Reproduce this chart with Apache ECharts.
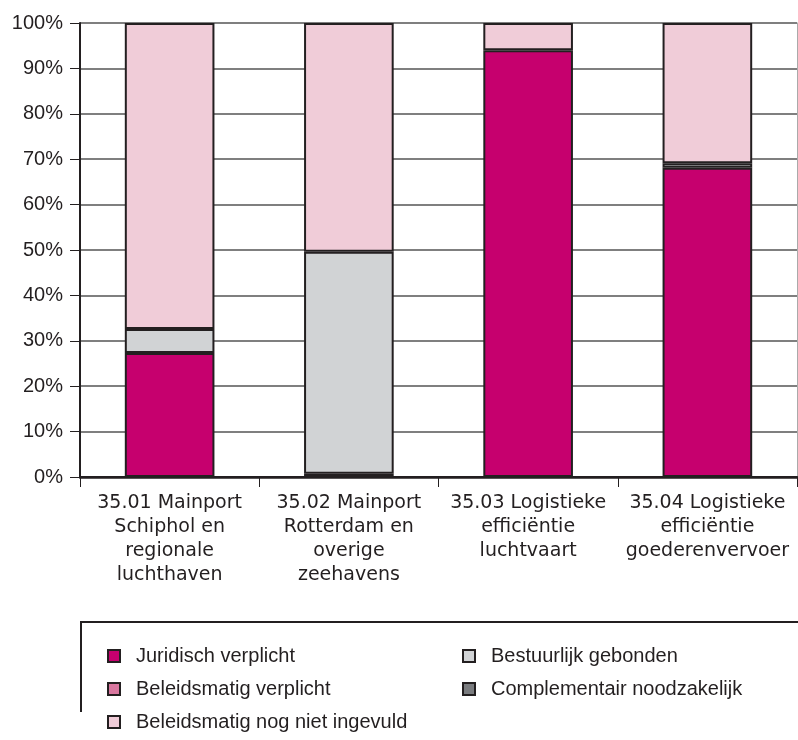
<!DOCTYPE html>
<html>
<head>
<meta charset="utf-8">
<script src="https://cdn.jsdelivr.net/npm/echarts@6/dist/echarts.min.js"></script>
<style>
  html, body { margin: 0; padding: 0; background: #fff; }
  #chart { width: 798px; height: 740px; }
</style>
</head>
<body>
<div id="chart"></div>
<script>
// categorieen (x-as)
const categories = [
  '35.01 Mainport\nSchiphol en\nregionale\nluchthaven',
  '35.02 Mainport\nRotterdam en\noverige\nzeehavens',
  '35.03 Logistieke\nefficiëntie\nluchtvaart',
  '35.04 Logistieke\nefficiëntie\ngoederenvervoer'
];
// waarden in procenten, van onder naar boven gestapeld
const juridisch = [27.3, 0.7, 94.0, 68.1];
const beleidsVerplicht = [0, 0, 0, 0];
const bestuurlijk = [5.3, 48.9, 0, 1.0];
const complementair = [0, 0, 0, 0];
const nogNietIngevuld = [67.4, 50.4, 6.0, 30.9];
const yTicks = [0, 10, 20, 30, 40, 50, 60, 70, 80, 90, 100];

const dark = '#231f20';
const font = 'Liberation Sans';

const chart = echarts.init(document.getElementById('chart'));

// lege segmenten niet tekenen (anders extra randlijnen)
const mkSeries = (name, data, color) => ({
  name: name,
  type: 'bar',
  stack: 'totaal',
  barWidth: '50%',
  data: data.map(v => v === 0 ? '-' : v),
  itemStyle: { color: color, borderColor: dark, borderWidth: 2 },
  emphasis: { disabled: true }
});

const legendText = { color: dark, fontFamily: font, fontSize: 20, lineHeight: 20, padding: [0, 0, 0, 11] };

chart.setOption({
  animation: false,
  grid: { left: 80, right: 1, top: 23, bottom: 263 },
  xAxis: [
    {
      type: 'category',
      data: categories,
      axisLine: { lineStyle: { color: dark, width: 2 } },
      axisTick: { show: true, length: 10, lineStyle: { color: dark, width: 1 } },
      axisLabel: {
        interval: 0, margin: 14, color: dark,
        fontFamily: 'DejaVu Sans', fontSize: 19, lineHeight: 24
      }
    },
    {
      type: 'category',
      position: 'top',
      data: categories,
      axisLine: { lineStyle: { color: dark, width: 2.5 } },
      axisTick: { show: false },
      axisLabel: { show: false }
    }
  ],
  yAxis: [
    {
      type: 'value',
      min: 0, max: 100, interval: 10,
      axisLine: { show: true, lineStyle: { color: dark, width: 2 } },
      axisTick: { show: true, length: 10, lineStyle: { color: dark, width: 1 } },
      axisLabel: {
        margin: 17, color: dark, fontFamily: font, fontSize: 20,
        formatter: v => yTicks.includes(v) ? v + '%' : ''
      },
      splitLine: { lineStyle: { color: '#555', width: 1.5 } }
    },
    {
      type: 'value',
      position: 'right',
      min: 0, max: 100, interval: 10,
      axisLine: { show: true, lineStyle: { color: '#aaa', width: 1 } },
      axisTick: { show: false },
      axisLabel: { show: false },
      splitLine: { show: false }
    }
  ],
  legend: [
    {
      orient: 'vertical',
      left: 102, top: 641,
      itemWidth: 12, itemHeight: 12, itemGap: 13,
      icon: 'rect',
      textStyle: legendText,
      data: ['Juridisch verplicht', 'Beleidsmatig verplicht', 'Beleidsmatig nog niet ingevuld']
    },
    {
      orient: 'vertical',
      left: 457, top: 641,
      itemWidth: 12, itemHeight: 12, itemGap: 13,
      icon: 'rect',
      textStyle: legendText,
      data: ['Bestuurlijk gebonden', 'Complementair noodzakelijk']
    }
  ],
  graphic: [
    { type: 'line', shape: { x1: 80, y1: 622, x2: 798, y2: 622 }, style: { stroke: dark, lineWidth: 2 } },
    { type: 'line', shape: { x1: 81, y1: 622, x2: 81, y2: 712 }, style: { stroke: dark, lineWidth: 2 } }
  ],
  series: [
    mkSeries('Juridisch verplicht', juridisch, '#c6006e'),
    mkSeries('Beleidsmatig verplicht', beleidsVerplicht, '#d9779f'),
    mkSeries('Bestuurlijk gebonden', bestuurlijk, '#d1d3d5'),
    mkSeries('Complementair noodzakelijk', complementair, '#7a7c7f'),
    mkSeries('Beleidsmatig nog niet ingevuld', nogNietIngevuld, '#f0ccd8')
  ]
});
</script>
</body>
</html>
